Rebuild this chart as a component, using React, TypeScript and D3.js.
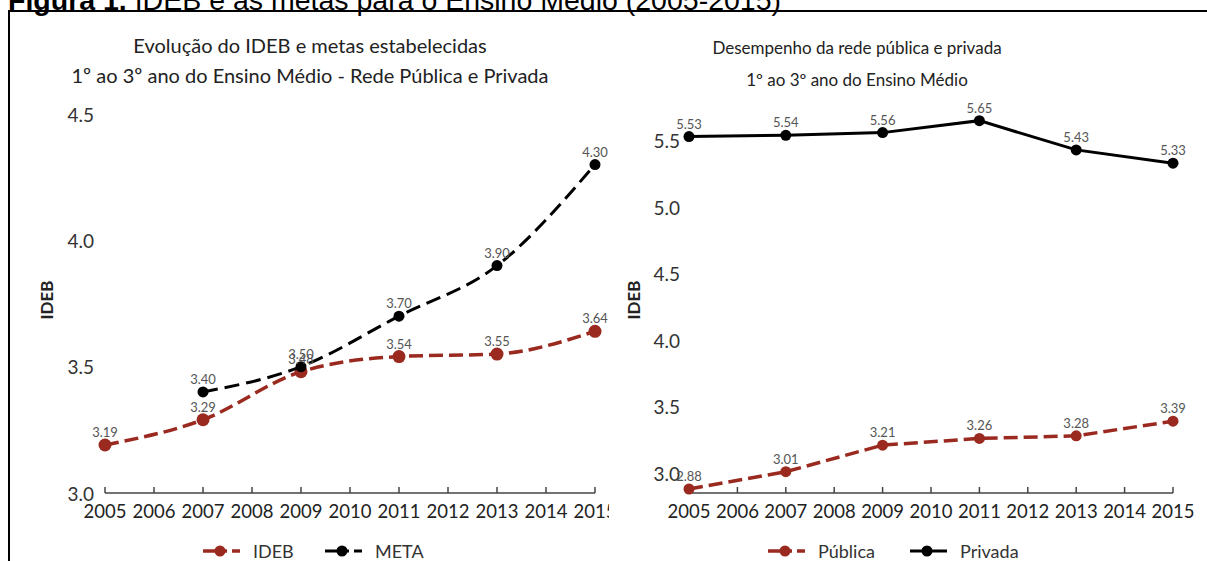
import React from "react";
import * as d3 from "d3";

const yearTicks = [2005, 2006, 2007, 2008, 2009, 2010, 2011, 2012, 2013, 2014, 2015];
const idebYears = [2005, 2007, 2009, 2011, 2013, 2015];
const idebValues = [3.19, 3.29, 3.48, 3.54, 3.55, 3.64];
const metaYears = [2007, 2009, 2011, 2013, 2015];
const metaValues = [3.4, 3.5, 3.7, 3.9, 4.3];
const redeYears = [2005, 2007, 2009, 2011, 2013, 2015];
const publicaValues = [2.88, 3.01, 3.21, 3.26, 3.28, 3.39];
const privadaValues = [5.53, 5.54, 5.56, 5.65, 5.43, 5.33];
const leftYTicks = [3.0, 3.5, 4.0, 4.5];
const rightYTicks = [3.0, 3.5, 4.0, 4.5, 5.0, 5.5];

const RED = "#9a2a1f";
const BLACK = "#000";
const FONT = "Lato, 'Open Sans', sans-serif";

type Series = {
  name: string;
  years: number[];
  values: number[];
  color: string;
  dash: string | null;
  width: number;
  r: number;
  smooth: boolean;
};

function Panel(props: {
  x0: number;
  x1: number;
  yDomain: [number, number];
  yTicks: number[];
  yLabelX: number;
  yTitleX: number;
  titles: string[];
  titleX: number;
  titleY: number[];
  titleSize: number;
  series: Series[];
  legendX: number[];
}) {
  const x = d3.scaleLinear().domain([2005, 2015]).range([props.x0, props.x1]);
  const y = d3.scaleLinear().domain(props.yDomain).range([493, 114]);
  return (
    <g>
      {props.titles.map((t, i) => (
        <text key={i} x={props.titleX} y={props.titleY[i]} textAnchor="middle" dominantBaseline="central"
          fontFamily={FONT} fontSize={props.titleSize} fill="#222">{t}</text>
      ))}
      {props.yTicks.map((v) => (
        <text key={v} x={props.yLabelX} y={y(v)} textAnchor="end" dominantBaseline="central"
          fontFamily={FONT} fontSize={19} fill="#333">{v.toFixed(1)}</text>
      ))}
      <text transform={`translate(${props.yTitleX},300) rotate(-90)`} textAnchor="middle" dominantBaseline="central"
        fontFamily={FONT} fontSize={17} fontWeight="bold" fill="#222">IDEB</text>
      <line x1={x(2005)} x2={x(2015)} y1={493} y2={493} stroke="#444" strokeWidth={1.5} />
      {yearTicks.map((yr) => (
        <g key={yr}>
          <line x1={x(yr)} x2={x(yr)} y1={487} y2={493} stroke="#444" strokeWidth={1.5} />
          <text x={x(yr)} y={511} textAnchor="middle" dominantBaseline="central"
            fontFamily={FONT} fontSize={18.5} fill="#222">{yr}</text>
        </g>
      ))}
      {props.series.map((s) => {
        const pts: [number, number][] = s.years.map((yr, i) => [x(yr), y(s.values[i])]);
        const line = d3.line().curve(s.smooth ? d3.curveMonotoneX : d3.curveLinear);
        return (
          <g key={s.name}>
            <path d={line(pts) || ""} fill="none" stroke={s.color} strokeWidth={s.width}
              strokeDasharray={s.dash || undefined} />
            {pts.map((p, i) => (
              <circle key={i} cx={p[0]} cy={p[1]} r={s.r} fill={s.color} />
            ))}
          </g>
        );
      })}
      {props.series.map((s) => (
        <g key={s.name + "lbl"}>
          {s.years.map((yr, i) => (
            <text key={i} x={x(yr)} y={y(s.values[i]) - 8} textAnchor="middle"
              fontFamily={FONT} fontSize={13} fill="#555">{s.values[i].toFixed(2)}</text>
          ))}
        </g>
      ))}
      {props.series.map((s, i) => {
        const lx = props.legendX[i];
        return (
          <g key={s.name + "leg"}>
            <line x1={lx} x2={lx + 37} y1={551} y2={551} stroke={s.color} strokeWidth={s.width}
              strokeDasharray={s.dash ? "24,5,8" : undefined} />
            <circle cx={lx + 17} cy={551} r={5.5} fill={s.color} />
            <text x={lx + 50} y={551} dominantBaseline="central" fontFamily={FONT} fontSize={18} fill="#333">{s.name}</text>
          </g>
        );
      })}
    </g>
  );
}

export default function App() {
  return (
    <svg width={1207} height={561} style={{ position: "absolute", left: 0, top: 0, background: "#fff" }}>
      <defs>
        <clipPath id="leftClip">
          <rect x={0} y={0} width={609} height={561} />
        </clipPath>
      </defs>
      <rect x={0} y={0} width={1207} height={561} fill="#fff" />
      <text x={8} y={10} fontFamily="'Liberation Sans', Arial, sans-serif" fontSize={28.5} fill="#000">
        <tspan fontWeight="bold">Figura 1.</tspan>
        <tspan> IDEB e as metas para o Ensino Médio (2005-2015)</tspan>
      </text>
      <line x1={8} x2={1207} y1={11} y2={11} stroke="#000" strokeWidth={2} />
      <line x1={9} x2={9} y1={10} y2={561} stroke="#000" strokeWidth={2} />
      <g clipPath="url(#leftClip)">
        <Panel
          x0={105}
          x1={595}
          yDomain={[3.0, 4.5]}
          yTicks={leftYTicks}
          yLabelX={94}
          yTitleX={46}
          titles={["Evolução do IDEB e metas estabelecidas", "1º ao 3º ano do Ensino Médio - Rede Pública e Privada"]}
          titleX={310}
          titleY={[45, 75]}
          titleSize={20}
          series={[
            { name: "IDEB", years: idebYears, values: idebValues, color: RED, dash: "14,6", width: 3.5, r: 6.5, smooth: true },
            { name: "META", years: metaYears, values: metaValues, color: BLACK, dash: "15,7", width: 3, r: 5.5, smooth: true },
          ]}
          legendX={[203, 325]}
        />
      </g>
      <Panel
        x0={689}
        x1={1173}
        yDomain={[2.85, 5.7]}
        yTicks={rightYTicks}
        yLabelX={680}
        yTitleX={633}
        titles={["Desempenho da rede pública e privada", "1º ao 3º ano do Ensino Médio"]}
        titleX={857}
        titleY={[47, 79]}
        titleSize={17}
        series={[
          { name: "Pública", years: redeYears, values: publicaValues, color: RED, dash: "14,6", width: 3.5, r: 5.5, smooth: false },
          { name: "Privada", years: redeYears, values: privadaValues, color: BLACK, dash: null, width: 3, r: 5.5, smooth: false },
        ]}
        legendX={[768, 910]}
      />
    </svg>
  );
}
